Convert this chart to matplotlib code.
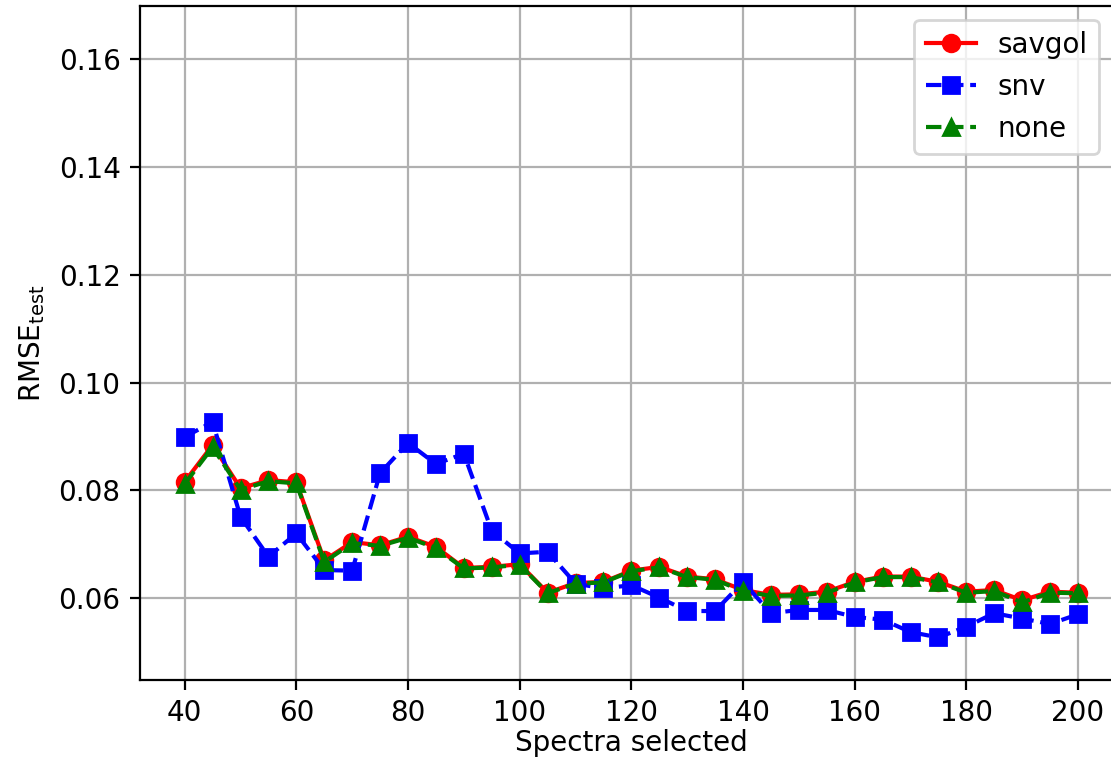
import matplotlib
matplotlib.use("Agg")
import matplotlib.pyplot as plt

spectra = list(range(40, 201, 5))

savgol = [0.0816, 0.0884, 0.0804, 0.0819, 0.0815, 0.0670, 0.0704, 0.0698, 0.0714, 0.0695,
          0.0656, 0.0658, 0.0663, 0.0610, 0.0628, 0.0630, 0.0651, 0.0658, 0.0640, 0.0635,
          0.0615, 0.0606, 0.0607, 0.0612, 0.0630, 0.0640, 0.0640, 0.0630, 0.0612, 0.0615,
          0.0596, 0.0612, 0.0610]

snv = [0.0899, 0.0927, 0.0751, 0.0677, 0.0720, 0.0652, 0.0651, 0.0832, 0.0888, 0.0849,
       0.0868, 0.0725, 0.0683, 0.0686, 0.0627, 0.0618, 0.0624, 0.0601, 0.0576, 0.0576,
       0.0630, 0.0572, 0.0578, 0.0578, 0.0565, 0.0560, 0.0537, 0.0527, 0.0547, 0.0572,
       0.0562, 0.0552, 0.0570]

none = [0.0812, 0.0880, 0.0801, 0.0817, 0.0813, 0.0667, 0.0702, 0.0697, 0.0712, 0.0693,
        0.0655, 0.0657, 0.0662, 0.0609, 0.0627, 0.0629, 0.0650, 0.0657, 0.0639, 0.0634,
        0.0613, 0.0604, 0.0605, 0.0610, 0.0629, 0.0639, 0.0639, 0.0629, 0.0610, 0.0613,
        0.0592, 0.0610, 0.0609]

W, H, DPI = 1111, 761, 200
fig = plt.figure(figsize=(W / DPI, H / DPI), dpi=DPI)
left, right, top, bottom = 140, 1122.7, 6, 680
ax = fig.add_axes([left / W, 1 - bottom / H, (right - left) / W, (bottom - top) / H])

ax.plot(spectra, savgol, '-o', color='red', label='savgol')
ax.plot(spectra, snv, '--s', color='blue', label='snv')
ax.plot(spectra, none, '--^', color='green', label='none')

ax.set_xlim(32, 208)
ax.set_ylim(0.0448, 0.1699)
ax.set_xticks(range(40, 201, 20))
ax.set_yticks([0.06, 0.08, 0.10, 0.12, 0.14, 0.16])
ax.grid(True)
ax.set_xlabel('Spectra selected', labelpad=0.5)
ax.set_ylabel(r'RMSE$_{\mathrm{test}}$')
ax.legend(loc='upper right', bbox_to_anchor=(0.99, 1.0), handlelength=1.8)

fig.savefig('out.png', dpi=DPI)
